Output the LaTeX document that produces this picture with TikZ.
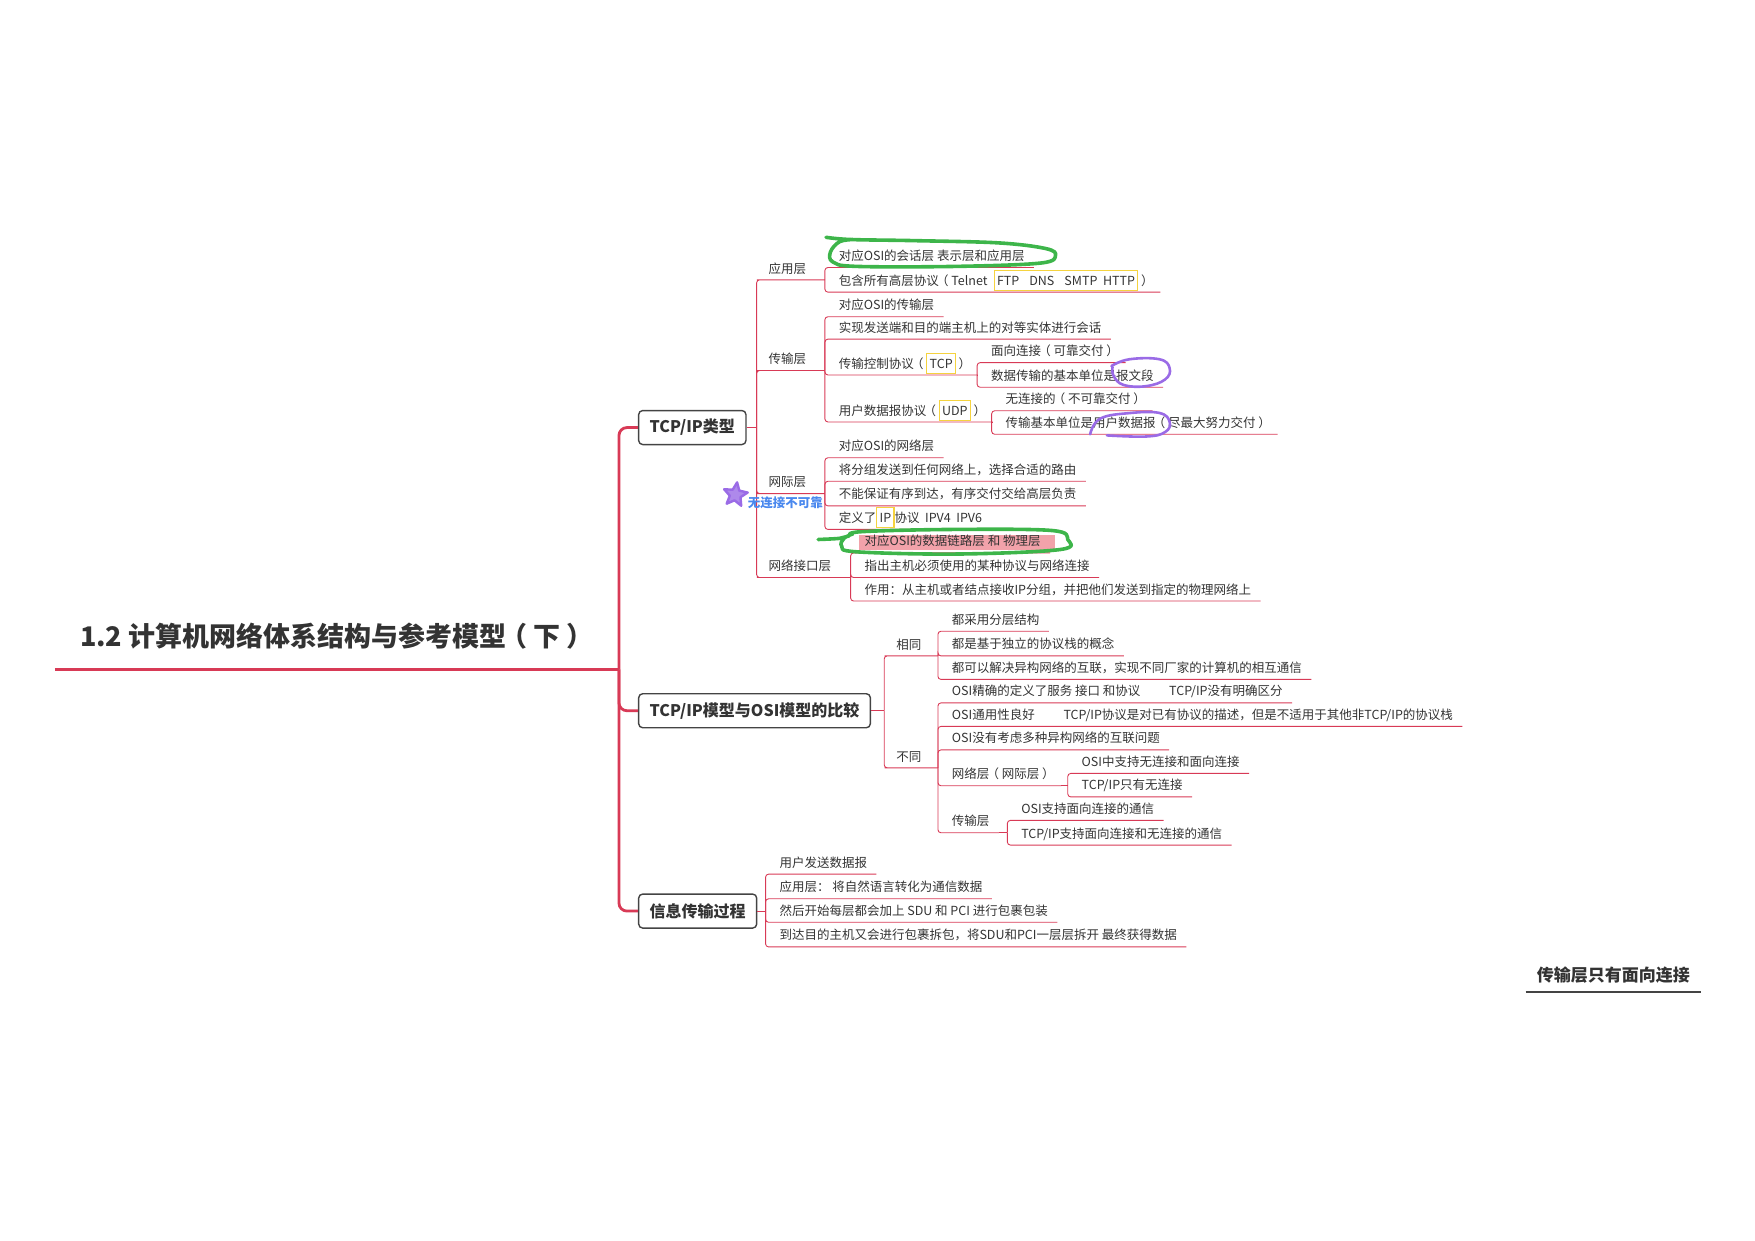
\documentclass[tikz,border=0pt]{standalone}
\usepackage{fontspec}
\newfontfamily\cjk{Noto Sans CJK SC}
\usetikzlibrary{shapes.geometric, backgrounds}
\definecolor{lnk}{HTML}{D83A56}
\definecolor{txt}{HTML}{333333}
\definecolor{boxc}{HTML}{444444}
\definecolor{hiyel}{HTML}{F5D33F}
\definecolor{hipink}{HTML}{F2A2AA}
\definecolor{mkgreen}{HTML}{3DB54A}
\definecolor{mkpurple}{HTML}{9A6BE6}
\definecolor{mkblue}{HTML}{4A88EE}
\newcommand{\ybox}[1]{{\fboxsep=2.2pt\fboxrule=1.1pt\color{hiyel}%
  \fbox{\color{txt}\rule[-2.7pt]{0pt}{14.8pt}#1}}}
\newcommand{\lp}{\kern-0.22em（\kern0.22em}
\newcommand{\rp}{\kern0.22em）\kern-0.22em}

\begin{document}
\begin{tikzpicture}[x=1.1193pt, y=-1.1193pt,
    leaf/.style={anchor=south west, font=\cjk\fontsize{12.5}{14}\selectfont,
                 text=txt, inner xsep=9pt, inner ysep=3.5pt,
                 text height=10pt, text depth=3pt},
    sub/.style={leaf, inner xsep=8.5pt},
    topic/.style={draw=boxc, line width=1.4pt, rounded corners=4pt,
                  fill=white, anchor=west, text=txt, inner xsep=11pt,
                  font=\cjk\bfseries\fontsize{16}{18}\selectfont,
                  minimum height=34pt},
    link/.style={draw=lnk, line width=0.9pt, rounded corners=3pt},
    trunk/.style={draw=lnk, line width=2.8pt, rounded corners=8pt},
    pen/.style={line width=3.6pt, line cap=round, line join=round},
  ]
  \useasboundingbox (0,0) rectangle (1568,1108);

  % Title and trunk
  \node[anchor=south west, font=\cjk\bfseries\fontsize{27}{30}\selectfont,
        text=txt, inner xsep=25pt, inner ysep=18.5pt, text depth=4pt]
    (ttl) at (49,598) {1.2 计算机网络体系结构与参考模型\lp 下\rp};
  \draw[lnk, line width=3.6pt] (ttl.south west) -- (ttl.south east);
  \coordinate (tk) at (553,598);
  \draw[trunk] (ttl.south east) -- (tk);

  \node[topic] (t1) at (570,382) {TCP/IP类型};
  \node[topic] (t2) at (570,635) {TCP/IP模型与OSI模型的比较};
  \node[topic] (t3) at (570,814) {信息传输过程};
  \foreach \b in {t1,t2,t3}
    \draw[trunk] (tk) |- (\b.west);

  % TCP/IP layers
  \coordinate (b1) at (676,382);
  \draw[link] (t1.east) -- (b1);
  \foreach \n/\y/\bx/\t in {app/250/737/应用层, tp/331/737/传输层,
                            ip/441/737/网际层, nif/516/760/网络接口层} {
    \node[sub] (\n) at (679,\y) {\t};
    \coordinate (b\n) at (\bx,\y);
    \draw[link] (b1) |- (\n.south west) -- (b\n);
  }

  \foreach \n/\y/\t in {a1/239/{对应OSI的会话层 表示层和应用层},
      a2/261/{包含所有高层协议\lp Telnet\hspace{0.5em}\ybox{FTP\hspace{0.8em}DNS\hspace{0.8em}SMTP\hspace{0.45em}HTTP}\rp}}
    \draw[link] (bapp) |- (741,\y) node[leaf] (\n) {\t}
      (\n.south west) -- (\n.south east);

  \foreach \n/\y/\t in {tp1/283/对应OSI的传输层,
      tp2/303/实现发送端和目的端主机上的对等实体进行会话,
      tcp/335/{传输控制协议\lp\ybox{TCP}\rp},
      udp/377/{用户数据报协议\lp\ybox{UDP}\rp}}
    \draw[link] (btp) |- (741,\y) node[leaf] (\n) {\t}
      (\n.south west) -- (\n.south east);

  \coordinate (btcp) at (873,335);
  \coordinate (budp) at (886,377);
  \draw[link] (tcp.south east) -- (btcp);
  \draw[link] (udp.south east) -- (budp);
  \foreach \n/\y/\t in {tcp1/324/面向连接\lp 可靠交付\rp,
                        tcp2/346/数据传输的基本单位是报文段}
    \draw[link] (btcp) |- (877,\y) node[leaf] (\n) {\t}
      (\n.south west) -- (\n.south east);
  \foreach \n/\y/\t in {udp1/367/无连接的\lp 不可靠交付\rp,
                        udp2/388/传输基本单位是用户数据报\lp 尽最大努力交付\rp}
    \draw[link] (budp) |- (890,\y) node[leaf] (\n) {\t}
      (\n.south west) -- (\n.south east);

  \foreach \n/\y/\t in {ip1/409/对应OSI的网络层,
      ip2/430/将分组发送到任何网络上，选择合适的路由,
      ip3/452/不能保证有序到达，有序交付交给高层负责,
      ip4/473/{定义了\ybox{IP}协议\ \ IPV4\ \ IPV6}}
    \draw[link] (bip) |- (741,\y) node[leaf] (\n) {\t}
      (\n.south west) -- (\n.south east);

  \foreach \n/\y/\t in {nif1/494/对应OSI的数据链路层 和 物理层,
      nif2/516/指出主机必须使用的某种协议与网络连接,
      nif3/537/作用：从主机或者结点接收IP分组，并把他们发送到指定的物理网络上}
    \draw[link] (bnif) |- (764,\y) node[leaf] (\n) {\t}
      (\n.south west) -- (\n.south east);

  % comparison
  \coordinate (b2) at (790,635);
  \draw[link] (t2.east) -- (b2);
  \foreach \n/\y/\t in {same/586/相同, diff/686/不同} {
    \node[sub] (\n) at (793,\y) {\t};
    \coordinate (b\n) at (838,\y);
    \draw[link] (b2) |- (\n.south west) -- (b\n);
  }
  \foreach \n/\y/\t in {s1/564/都采用分层结构,
      s2/586/都是基于独立的协议栈的概念,
      s3/607/都可以解决异构网络的互联，实现不同厂家的计算机的相互通信}
    \draw[link] (bsame) |- (842,\y) node[leaf] (\n) {\t}
      (\n.south west) -- (\n.south east);
  \foreach \n/\y/\t in {
      d1/628/{OSI精确的定义了服务 接口 和协议\hspace{2.3em}TCP/IP没有明确区分},
      d2/649/{OSI通用性良好\hspace{2.3em}TCP/IP协议是对已有协议的描述，但是不适用于其他非TCP/IP的协议栈},
      d3/670/OSI没有考虑多种异构网络的互联问题,
      d4/702/网络层\lp 网际层\rp, d5/744/传输层}
    \draw[link] (bdiff) |- (842,\y) node[leaf] (\n) {\t}
      (\n.south west) -- (\n.south east);

  \coordinate (bd4) at (954,702);
  \coordinate (bd5) at (900,744);
  \draw[link] (d4.south east) -- (bd4);
  \draw[link] (d5.south east) -- (bd5);
  \foreach \n/\y/\t in {n1/691/OSI中支持无连接和面向连接, n2/712/{TCP/IP只有无连接}}
    \draw[link] (bd4) |- (958,\y) node[leaf] (\n) {\t}
      (\n.south west) -- (\n.south east);
  \foreach \n/\y/\t in {c1/733/OSI支持面向连接的通信,
                        c2/755/{TCP/IP支持面向连接和无连接的通信}}
    \draw[link] (bd5) |- (904,\y) node[leaf] (\n) {\t}
      (\n.south west) -- (\n.south east);

  % transfer process
  \coordinate (b3) at (684,814);
  \draw[link] (t3.east) -- (b3);
  \foreach \n/\y/\t in {m1/781/用户发送数据报,
      m2/803/应用层： 将自然语言转化为通信数据,
      m3/824/然后开始每层都会加上 SDU 和 PCI 进行包裹包装,
      m4/846/到达目的主机又会进行包裹拆包，将SDU和PCI一层层拆开 最终获得数据}
    \draw[link] (b3) |- (688,\y) node[leaf] (\n) {\t}
      (\n.south west) -- (\n.south east);

  % floating topic
  \node[anchor=south west, font=\cjk\bfseries\fontsize{17}{19}\selectfont,
        text=txt, inner xsep=11pt, inner ysep=7.3pt, text depth=3pt]
    (nt) at (1363,886) {传输层只有面向连接};
  \draw[boxc, line width=1.8pt] (nt.south west) -- (nt.south east);

  % hand marks
  \begin{scope}[on background layer]
    \fill[hipink] ([xshift=4pt, yshift=3.4pt]nif1.south west)
      rectangle ([xshift=5pt, yshift=18pt]nif1.south east);
  \end{scope}
  \draw[pen, mkgreen] plot[smooth, tension=0.6] coordinates {(738,212) (760,214)
    (817,215) (892,217) (934,222) (943,228) (930,235) (855,238) (765,238)
    (744,234) (742,225) (750,216) (762,214)};
  \draw[pen, mkgreen] plot[smooth, tension=0.6] coordinates {(731,482) (750,481)
    (758,479) (770,475) (855,473) (940,474) (954,482) (947,491) (855,495)
    (765,493) (752,488) (754,481) (762,477)};
  \draw[pen, mkpurple, line width=2.6pt] plot[smooth, tension=0.7] coordinates {
    (993,327) (1009,321) (1036,321) (1045,329) (1041,339) (1024,345)
    (1004,344) (995,336) (994,328)};
  \draw[pen, mkpurple, line width=2.6pt] plot[smooth, tension=0.7] coordinates {
    (974,388) (983,374) (1010,369) (1036,369) (1045,377) (1041,386)
    (1024,390) (989,389)};
  \node[star, star points=5, star point ratio=2.2, draw=mkpurple,
        fill=mkpurple!80, line width=2.4pt, line join=round,
        minimum size=25pt, inner sep=0pt, rotate=-8]
    (st) at (657,442) {};
  \node[anchor=west, inner sep=0pt, text=mkblue,
        font=\cjk\bfseries\fontsize{12.5}{14}\selectfont]
    (bl) at (668,449) {无连接不可靠};
\end{tikzpicture}
\end{document}
